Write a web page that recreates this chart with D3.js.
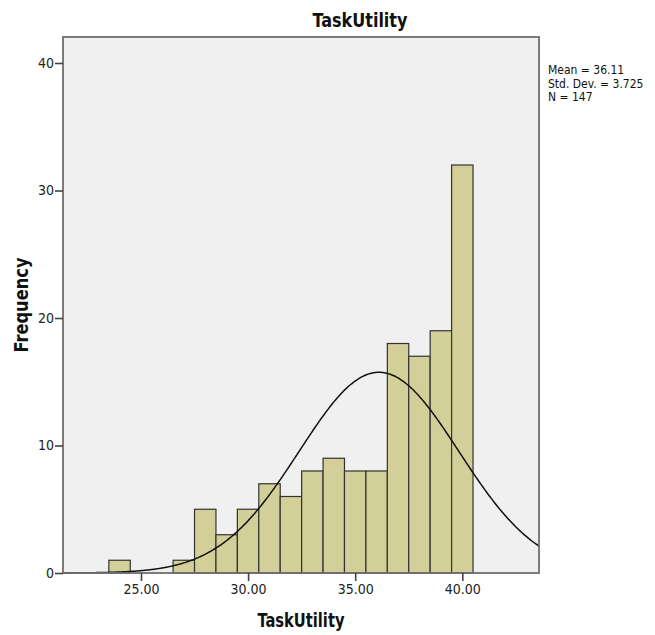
<!DOCTYPE html>
<html>
<head>
<meta charset="utf-8">
<script src="https://cdn.jsdelivr.net/npm/d3@7"></script>
<style>
  html, body { margin: 0; padding: 0; background: #fff; }
  svg { display: block; }
  .narrow { font-family: "DejaVu Sans Condensed", "DejaVu Sans", "Liberation Sans", sans-serif; font-stretch: condensed; }
</style>
</head>
<body>
<script>
// Histogram of TaskUtility with a fitted normal curve
const binCenters = [24, 25, 26, 27, 28, 29, 30, 31, 32, 33, 34, 35, 36, 37, 38, 39, 40];
const frequencies = [1, 0, 0, 1, 5, 3, 5, 7, 6, 8, 9, 8, 8, 18, 17, 19, 32];
const xTicks = [25, 30, 35, 40];
const yTicks = [0, 10, 20, 30, 40];
const statLines = ["Mean = 36.11", "Std. Dev. = 3.725", "N = 147"];
const mean = 36.11, sd = 3.725, n = 147, binWidth = 1;

const W = 655, H = 635;
const plot = { left: 63, right: 539, top: 37, bottom: 573 };

const svg = d3.select("body").append("svg").attr("width", W).attr("height", H);

const x = d3.scaleLinear().domain([21.36, 43.58]).range([plot.left, plot.right]);
const y = d3.scaleLinear().domain([0, 42.04]).range([plot.bottom, plot.top]);

// plot background
svg.append("rect")
  .attr("x", plot.left).attr("y", plot.top)
  .attr("width", plot.right - plot.left).attr("height", plot.bottom - plot.top)
  .attr("fill", "#f0f0f0");

// bars
svg.append("g").selectAll("rect")
  .data(binCenters.map((c, i) => ({ c, f: frequencies[i] })).filter(d => d.f > 0))
  .join("rect")
  .attr("x", d => x(d.c - binWidth / 2))
  .attr("width", d => x(d.c + binWidth / 2) - x(d.c - binWidth / 2))
  .attr("y", d => y(d.f))
  .attr("height", d => y(0) - y(d.f))
  .attr("fill", "#d3cf98")
  .attr("stroke", "#333")
  .attr("stroke-width", 1.2);

// normal curve scaled to counts
const pdf = v => n * binWidth * Math.exp(-0.5 * ((v - mean) / sd) ** 2) / (sd * Math.sqrt(2 * Math.PI));
const xs = d3.range(0, 401).map(i => x.domain()[0] + (x.domain()[1] - x.domain()[0]) * i / 400);
svg.append("path")
  .datum(xs)
  .attr("d", d3.line().x(v => x(v)).y(v => y(pdf(v))).curve(d3.curveBasis))
  .attr("fill", "none")
  .attr("stroke", "#111")
  .attr("stroke-width", 1.5);

// frame
svg.append("rect")
  .attr("x", plot.left).attr("y", plot.top)
  .attr("width", plot.right - plot.left).attr("height", plot.bottom - plot.top)
  .attr("fill", "none").attr("stroke", "#6e6e6e").attr("stroke-width", 1.8);

// axes
const xAxis = svg.append("g")
  .attr("transform", `translate(0,${plot.bottom})`)
  .call(d3.axisBottom(x).tickValues(xTicks).tickFormat(d3.format(".2f")).tickSize(8).tickSizeOuter(0).tickPadding(3));
const yAxis = svg.append("g")
  .attr("transform", `translate(${plot.left},0)`)
  .call(d3.axisLeft(y).tickValues(yTicks).tickSize(8).tickSizeOuter(0).tickPadding(1));
[xAxis, yAxis].forEach(g => {
  g.select(".domain").remove();
  g.selectAll("line").attr("stroke", "#444").attr("stroke-width", 1.6);
  g.selectAll("text").attr("class", "narrow").attr("font-size", 14).attr("fill", "#222");
});

// titles
svg.append("text")
  .attr("x", 360).attr("y", 27)
  .attr("text-anchor", "middle")
  .attr("class", "narrow")
  .attr("font-size", 20).attr("font-weight", "bold").attr("fill", "#111")
  .attr("textLength", 95).attr("lengthAdjust", "spacingAndGlyphs")
  .text("TaskUtility");
svg.append("text")
  .attr("x", 301).attr("y", 627)
  .attr("text-anchor", "middle")
  .attr("class", "narrow")
  .attr("font-size", 19).attr("font-weight", "bold").attr("fill", "#111")
  .attr("textLength", 87).attr("lengthAdjust", "spacingAndGlyphs")
  .text("TaskUtility");
svg.append("text")
  .attr("transform", `translate(28,305) rotate(-90)`)
  .attr("text-anchor", "middle")
  .attr("class", "narrow")
  .attr("font-size", 19).attr("font-weight", "bold").attr("fill", "#111")
  .attr("textLength", 95).attr("lengthAdjust", "spacingAndGlyphs")
  .text("Frequency");

// summary statistics
svg.append("g").selectAll("text")
  .data(statLines)
  .join("text")
  .attr("x", 548)
  .attr("y", (d, i) => 74 + i * 13.5)
  .attr("class", "narrow")
  .attr("font-size", 12).attr("fill", "#111")
  .text(d => d);
</script>
</body>
</html>
